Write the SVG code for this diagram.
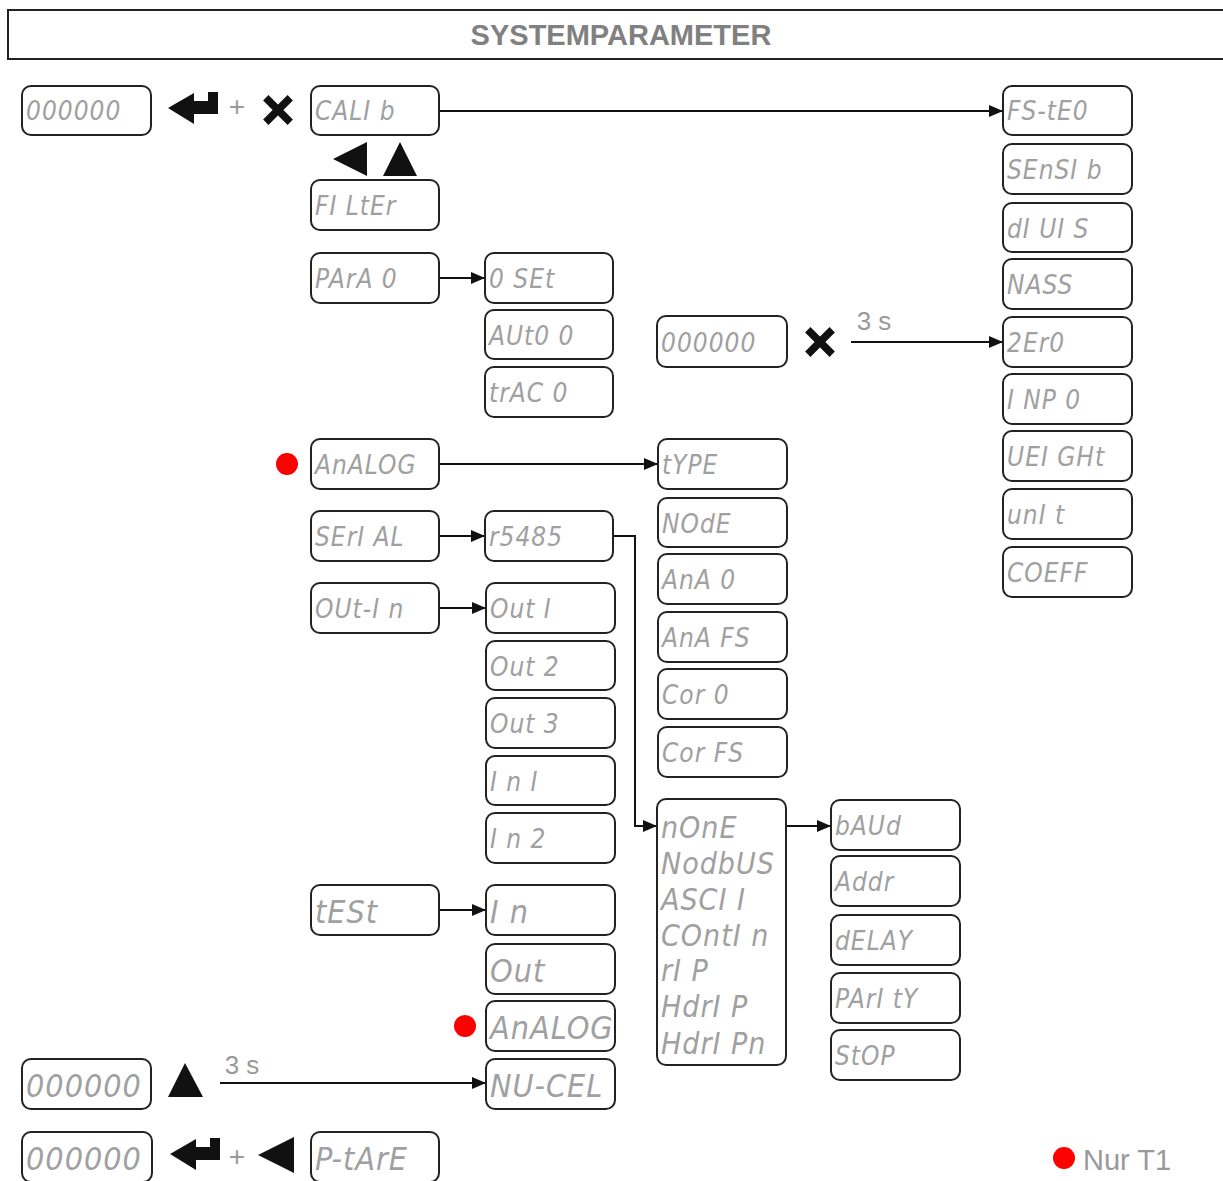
<svg xmlns="http://www.w3.org/2000/svg" width="1223" height="1181" viewBox="0 0 1223 1181">
  <defs>
    <marker id="arr" viewBox="0 0 14 12" refX="14" refY="6" markerWidth="14" markerHeight="12" markerUnits="userSpaceOnUse" orient="auto">
      <path d="M0,0 L14,6 L0,12 z" fill="#111"/>
    </marker>
    <symbol id="enter" viewBox="0 0 50 34" overflow="visible">
      <path d="M0,16 L26,1 L26,9 L40,9 L40,0 L50,0 L50,22 L26,22 L26,32 z" fill="#111"/>
    </symbol>
    <symbol id="cross" viewBox="0 0 34 34" overflow="visible">
      <path d="M4,4 L30,30 M30,4 L4,30" stroke="#111" stroke-width="8" stroke-linecap="butt"/>
    </symbol>
  </defs>
  <style>
    .box { fill: #fff; stroke: #222; stroke-width: 2; }
    .seg { font-family: "Liberation Sans Narrow", "DejaVu Sans Condensed", "Liberation Sans", sans-serif; font-style: italic; font-size: 26px; fill: #a0a0a0; letter-spacing: 1px; }
    .big { font-size: 32px; }
    .list { font-size: 30px; }
    .lbl { font-family: "Liberation Sans", Arial, sans-serif; fill: #999; }
    .edge { fill: none; stroke: #111; stroke-width: 2; marker-end: url(#arr); }
    .dot { fill: #f00; }
  </style>

  <rect width="1223" height="1181" fill="#fff"/>

  <!-- title bar -->
  <g id="title">
    <rect x="8" y="10" width="1226" height="49" fill="#fff" stroke="#222" stroke-width="2"/>
    <text x="621" y="45" text-anchor="middle" font-family="Liberation Sans, Arial, sans-serif" font-weight="bold" font-size="29" fill="#808080">SYSTEMPARAMETER</text>
  </g>

  <!-- connectors -->
  <g id="connectors">
    <path class="edge" d="M439,111 H1003"/>
    <path class="edge" d="M439,278 H485"/>
    <path class="edge" d="M851,342 H1003"/>
    <path class="edge" d="M439,464 H658"/>
    <path class="edge" d="M439,536 H485"/>
    <path class="edge" d="M613,536 H635 V826 H657"/>
    <path class="edge" d="M439,608 H486"/>
    <path class="edge" d="M786,826 H831"/>
    <path class="edge" d="M439,910 H486"/>
    <path class="edge" d="M220,1083 H486"/>
  </g>

  <!-- key symbols and labels -->
  <g id="keys">
    <use href="#enter" x="168" y="92" width="50" height="34"/>
    <text class="lbl" x="237" y="116" font-size="28" text-anchor="middle">+</text>
    <use href="#cross" x="262" y="94" width="32" height="32"/>
    <path d="M333,159 L367,142 L367,176 z" fill="#111"/>
    <path d="M383,176 L400,142 L417,176 z" fill="#111"/>
    <use href="#cross" x="804" y="326" width="32" height="32"/>
    <text class="lbl" x="874" y="330" font-size="26" text-anchor="middle">3 s</text>
    <path d="M168,1097 L185,1063 L203,1097 z" fill="#111"/>
    <text class="lbl" x="242" y="1074" font-size="26" text-anchor="middle">3 s</text>
    <use href="#enter" x="170" y="1138" width="50" height="34"/>
    <text class="lbl" x="237" y="1166" font-size="28" text-anchor="middle">+</text>
    <path d="M258,1155 L294,1137 L294,1173 z" fill="#111"/>
    <circle class="dot" cx="287" cy="464" r="11"/>
    <circle class="dot" cx="465" cy="1026" r="11"/>
    <circle class="dot" cx="1064" cy="1158" r="11"/>
    <text class="lbl" x="1083" y="1170" font-size="29">Nur T1</text>
  </g>

  <!-- left column -->
  <g id="n-disp1"><rect class="box" x="22" y="86" width="129" height="49" rx="9"/><text class="seg" x="26" y="120">000000</text></g>
  <g id="n-calib"><rect class="box" x="311" y="86" width="128" height="49" rx="9"/><text class="seg" x="315" y="120">CALI b</text></g>
  <g id="n-filter"><rect class="box" x="311" y="180" width="128" height="50" rx="9"/><text class="seg" x="315" y="215">FI LtEr</text></g>
  <g id="n-para0"><rect class="box" x="311" y="253" width="128" height="50" rx="9"/><text class="seg" x="315" y="288">PArA 0</text></g>
  <g id="n-analog"><rect class="box" x="311" y="439" width="128" height="50" rx="9"/><text class="seg" x="315" y="474">AnALOG</text></g>
  <g id="n-serial"><rect class="box" x="311" y="511" width="128" height="50" rx="9"/><text class="seg" x="315" y="546">SErI AL</text></g>
  <g id="n-outin"><rect class="box" x="311" y="583" width="128" height="50" rx="9"/><text class="seg" x="315" y="618">OUt-I n</text></g>
  <g id="n-test"><rect class="box" x="311" y="885" width="128" height="50" rx="9"/><text class="seg big" x="315" y="923">tESt</text></g>
  <g id="n-disp3"><rect class="box" x="22" y="1059" width="129" height="50" rx="9"/><text class="seg big" x="26" y="1097">000000</text></g>
  <g id="n-disp4"><rect class="box" x="22" y="1132" width="130" height="50" rx="9"/><text class="seg big" x="26" y="1170">000000</text></g>
  <g id="n-ptare"><rect class="box" x="311" y="1132" width="128" height="50" rx="9"/><text class="seg big" x="315" y="1170">P-tArE</text></g>

  <!-- second column -->
  <g id="n-0set"><rect class="box" x="485" y="253" width="128" height="50" rx="9"/><text class="seg" x="489" y="288">0 SEt</text></g>
  <g id="n-auto0"><rect class="box" x="485" y="310" width="128" height="49" rx="9"/><text class="seg" x="489" y="345">AUt0 0</text></g>
  <g id="n-trac0"><rect class="box" x="485" y="367" width="128" height="50" rx="9"/><text class="seg" x="489" y="402">trAC 0</text></g>
  <g id="n-rs485"><rect class="box" x="485" y="511" width="128" height="50" rx="9"/><text class="seg" x="489" y="546">r5485</text></g>
  <g id="n-out1"><rect class="box" x="486" y="583" width="129" height="50" rx="9"/><text class="seg" x="490" y="618">Out  I</text></g>
  <g id="n-out2"><rect class="box" x="486" y="641" width="129" height="49" rx="9"/><text class="seg" x="490" y="676">Out 2</text></g>
  <g id="n-out3"><rect class="box" x="486" y="698" width="129" height="50" rx="9"/><text class="seg" x="490" y="733">Out 3</text></g>
  <g id="n-in1"><rect class="box" x="486" y="756" width="129" height="49" rx="9"/><text class="seg" x="490" y="791">I n  I</text></g>
  <g id="n-in2"><rect class="box" x="486" y="813" width="129" height="50" rx="9"/><text class="seg" x="490" y="848">I n 2</text></g>
  <g id="n-tin"><rect class="box" x="486" y="885" width="129" height="50" rx="9"/><text class="seg big" x="490" y="923">I n</text></g>
  <g id="n-tout"><rect class="box" x="486" y="944" width="129" height="50" rx="9"/><text class="seg big" x="490" y="982">Out</text></g>
  <g id="n-tanalog"><rect class="box" x="486" y="1001" width="129" height="50" rx="9"/><text class="seg big" x="490" y="1039">AnALOG</text></g>
  <g id="n-nucel"><rect class="box" x="486" y="1059" width="129" height="50" rx="9"/><text class="seg big" x="490" y="1097">NU-CEL</text></g>

  <!-- third column -->
  <g id="n-disp2"><rect class="box" x="657" y="316" width="130" height="51" rx="9"/><text class="seg" x="661" y="352">000000</text></g>
  <g id="n-type"><rect class="box" x="658" y="439" width="129" height="50" rx="9"/><text class="seg" x="662" y="474">tYPE</text></g>
  <g id="n-mode"><rect class="box" x="658" y="498" width="129" height="49" rx="9"/><text class="seg" x="662" y="533">NOdE</text></g>
  <g id="n-ana0"><rect class="box" x="658" y="554" width="129" height="50" rx="9"/><text class="seg" x="662" y="589">AnA 0</text></g>
  <g id="n-anafs"><rect class="box" x="658" y="612" width="129" height="50" rx="9"/><text class="seg" x="662" y="647">AnA FS</text></g>
  <g id="n-cor0"><rect class="box" x="658" y="669" width="129" height="50" rx="9"/><text class="seg" x="662" y="704">Cor   0</text></g>
  <g id="n-corfs"><rect class="box" x="658" y="727" width="129" height="50" rx="9"/><text class="seg" x="662" y="762">Cor FS</text></g>
  <g id="n-proto">
    <rect class="box" x="657" y="799" width="129" height="266" rx="9"/>
    <text class="seg list" x="661" y="838">nOnE</text>
    <text class="seg list" x="661" y="874">NodbUS</text>
    <text class="seg list" x="661" y="910">ASCI I</text>
    <text class="seg list" x="661" y="946">COntI n</text>
    <text class="seg list" x="661" y="981">rI P</text>
    <text class="seg list" x="661" y="1017">HdrI P</text>
    <text class="seg list" x="661" y="1054">HdrI Pn</text>
  </g>

  <!-- serial settings -->
  <g id="n-baud"><rect class="box" x="831" y="800" width="129" height="50" rx="9"/><text class="seg" x="835" y="835">bAUd</text></g>
  <g id="n-addr"><rect class="box" x="831" y="856" width="129" height="50" rx="9"/><text class="seg" x="835" y="891">Addr</text></g>
  <g id="n-delay"><rect class="box" x="831" y="915" width="129" height="50" rx="9"/><text class="seg" x="835" y="950">dELAY</text></g>
  <g id="n-parity"><rect class="box" x="831" y="973" width="129" height="50" rx="9"/><text class="seg" x="835" y="1008">PArI tY</text></g>
  <g id="n-stop"><rect class="box" x="831" y="1030" width="129" height="50" rx="9"/><text class="seg" x="835" y="1065">StOP</text></g>

  <!-- calibration column -->
  <g id="n-fsteo"><rect class="box" x="1003" y="86" width="129" height="49" rx="9"/><text class="seg" x="1007" y="120">FS-tE0</text></g>
  <g id="n-sensib"><rect class="box" x="1003" y="144" width="129" height="50" rx="9"/><text class="seg" x="1007" y="179">SEnSI b</text></g>
  <g id="n-divis"><rect class="box" x="1003" y="203" width="129" height="49" rx="9"/><text class="seg" x="1007" y="238">dI UI S</text></g>
  <g id="n-mass"><rect class="box" x="1003" y="259" width="129" height="50" rx="9"/><text class="seg" x="1007" y="294">NASS</text></g>
  <g id="n-zero"><rect class="box" x="1003" y="317" width="129" height="50" rx="9"/><text class="seg" x="1007" y="352">2Er0</text></g>
  <g id="n-inp0"><rect class="box" x="1003" y="374" width="129" height="50" rx="9"/><text class="seg" x="1007" y="409">I NP 0</text></g>
  <g id="n-weight"><rect class="box" x="1003" y="431" width="129" height="50" rx="9"/><text class="seg" x="1007" y="466">UEI GHt</text></g>
  <g id="n-unit"><rect class="box" x="1003" y="489" width="129" height="50" rx="9"/><text class="seg" x="1007" y="524">unI t</text></g>
  <g id="n-coeff"><rect class="box" x="1003" y="547" width="129" height="50" rx="9"/><text class="seg" x="1007" y="582">COEFF</text></g>
</svg>
